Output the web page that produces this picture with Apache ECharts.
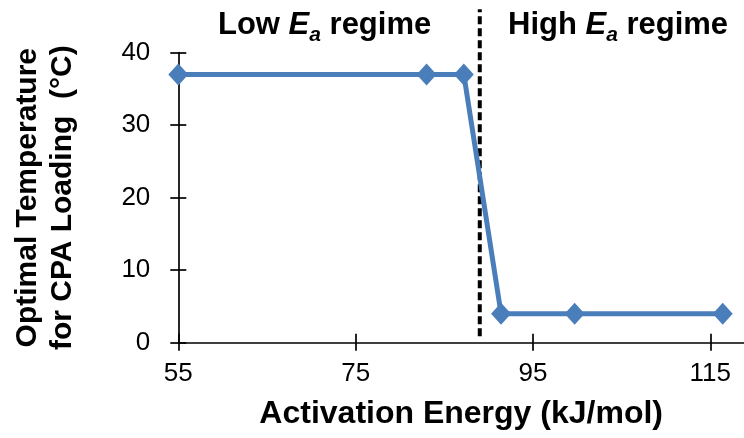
<!DOCTYPE html>
<html>
<head>
<meta charset="utf-8">
<script src="https://cdn.jsdelivr.net/npm/echarts@6/dist/echarts.min.js"></script>
<style>html,body{margin:0;padding:0;background:#fff;}#c{width:744px;height:438px;}</style>
</head>
<body>
<div id="c"></div>
<script>
// Data
const activationEnergy = [55, 83, 87.2, 91.4, 99.7, 116.4];
const optimalTemp = [37, 37, 37, 4, 4, 4];
const xTickValues = [55, 75, 95, 115];
const yTicks = { min: 0, max: 40, interval: 10 };
const xRange = { min: 55, max: 118.8 };
const regimeBoundary = 89;
const boundarySpan = [0.9, 46];

const FONT = '"Liberation Sans", Arial, sans-serif';
const chart = echarts.init(document.getElementById('c'));

const xCommon = {
  type: 'value', min: xRange.min, max: xRange.max, position: 'bottom',
  splitLine: { show: false }
};
const yCommon = {
  type: 'value', min: yTicks.min, max: yTicks.max, interval: yTicks.interval, position: 'left',
  splitLine: { show: false }
};

const rich = {
  b: { fontFamily: FONT, fontWeight: 'bold', fontSize: 31, color: '#000', lineHeight: 40 },
  e: { fontFamily: FONT, fontWeight: 'bold', fontStyle: 'italic', fontSize: 31, color: '#000', lineHeight: 40 },
  s: { fontFamily: FONT, fontWeight: 'bold', fontStyle: 'italic', fontSize: 21, color: '#000', lineHeight: 14, verticalAlign: 'bottom' }
};

chart.setOption({
  animation: false,
  backgroundColor: '#fff',
  grid: { left: 178.3, right: 0, top: 52.7, bottom: 95.3 },
  xAxis: [
    Object.assign({}, xCommon, {
      name: 'Activation Energy (kJ/mol)',
      nameLocation: 'middle', nameGap: 55,
      nameTextStyle: { fontFamily: FONT, fontWeight: 'bold', fontSize: 32, color: '#000' },
      axisLine: { show: true, lineStyle: { color: '#000', width: 1.7 } },
      axisTick: { show: true, inside: false, length: 8, lineStyle: { color: '#000', width: 1.7 }, customValues: xTickValues },
      axisLabel: { show: true, margin: 18, fontFamily: FONT, fontSize: 26, color: '#000', customValues: xTickValues }
    }),
    Object.assign({}, xCommon, {
      axisLine: { show: false },
      axisTick: { show: true, inside: true, length: 9, lineStyle: { color: '#000', width: 1.7 }, customValues: xTickValues },
      axisLabel: { show: false }
    })
  ],
  yAxis: [
    Object.assign({}, yCommon, {
      name: 'Optimal Temperature\nfor CPA Loading  (°C)',
      nameLocation: 'middle', nameGap: 98,
      nameTextStyle: { fontFamily: FONT, fontWeight: 'bold', fontSize: 30, lineHeight: 35, color: '#000', align: 'center' },
      axisLine: { show: true, lineStyle: { color: '#000', width: 1.7 } },
      axisTick: { show: true, inside: false, length: 8, lineStyle: { color: '#000', width: 1.7 } },
      axisLabel: { show: true, margin: 28, fontFamily: FONT, fontSize: 26, color: '#000' }
    }),
    Object.assign({}, yCommon, {
      axisLine: { show: false },
      axisTick: { show: true, inside: true, length: 8, lineStyle: { color: '#000', width: 1.7 } },
      axisLabel: { show: false }
    })
  ],
  graphic: [
    { type: 'text', left: 218, top: 10, style: { text: '{b|Low }{e|E}{s|a}{b| regime}', rich: rich } },
    { type: 'text', left: 508, top: 10, style: { text: '{b|High }{e|E}{s|a}{b| regime}', rich: rich } }
  ],
  series: [
    {
      type: 'line',
      xAxisIndex: 0, yAxisIndex: 0,
      data: activationEnergy.map((x, i) => [x, optimalTemp[i]]),
      symbol: 'diamond', symbolSize: [20, 22],
      lineStyle: { color: '#4a7ebb', width: 5 },
      itemStyle: { color: '#4a7ebb' },
      clip: false,
      z: 3
    },
    {
      type: 'line',
      xAxisIndex: 0, yAxisIndex: 0,
      data: boundarySpan.map(y => [regimeBoundary, y]),
      symbol: 'none',
      lineStyle: { color: '#000', width: 4, type: [8, 4] },
      clip: false,
      z: 2
    }
  ]
});
</script>
</body>
</html>
